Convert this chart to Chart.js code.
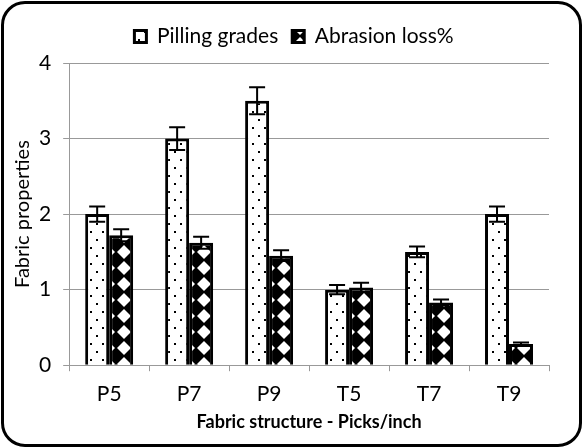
<!DOCTYPE html>
<html>
<head>
<meta charset="utf-8">
<script src="https://cdn.jsdelivr.net/npm/chart.js@4"></script>
<style>
  html, body { margin: 0; padding: 0; background: #fff; }
  #frame {
    position: absolute; left: 1px; top: 1px;
    width: 575px; height: 440px;
    border: 3px solid #000; border-radius: 24px;
    background: #fff; overflow: hidden;
  }
  #wrap { position: absolute; left: 0; top: 0; width: 575px; height: 440px; }
</style>
</head>
<body>
<div id="frame"><div id="wrap"><canvas id="fabricChart"></canvas></div></div>
<script>
const categories = ['P5', 'P7', 'P9', 'T5', 'T7', 'T9'];
const pillingGrades = [2.0, 3.0, 3.5, 1.0, 1.5, 2.0];
const pillingErr = [0.1, 0.15, 0.18, 0.06, 0.07, 0.1];
const abrasionLoss = [1.72, 1.62, 1.45, 1.03, 0.83, 0.28];
const abrasionErr = [0.08, 0.08, 0.07, 0.06, 0.04, 0.02];
const yTicks = [0, 1, 2, 3, 4];

function dotPattern() {
    const c = document.createElement('canvas');
    c.width = 12; c.height = 16;
    const g = c.getContext('2d');
    g.fillStyle = '#fff'; g.fillRect(0, 0, 12, 16);
    g.fillStyle = '#000';
    g.fillRect(2, 3, 2, 2);
    g.fillRect(8, 11, 2, 2);
    return document.createElement('canvas').getContext('2d').createPattern(c, 'repeat');
}

function diamondPattern() {
    const c = document.createElement('canvas');
    c.width = 16; c.height = 16;
    const g = c.getContext('2d');
    g.fillStyle = '#000'; g.fillRect(0, 0, 16, 16);
    g.fillStyle = '#fff';
    g.beginPath();
    g.moveTo(8, 1); g.lineTo(15, 8); g.lineTo(8, 15); g.lineTo(1, 8);
    g.closePath(); g.fill();
    return document.createElement('canvas').getContext('2d').createPattern(c, 'repeat');
}

const errorBars = {
    id: 'errorBars',
    afterDatasetsDraw(chart) {
        const ctx = chart.ctx;
        const y = chart.scales.y;
        chart.data.datasets.forEach((ds, i) => {
            const meta = chart.getDatasetMeta(i);
            meta.data.forEach((bar, j) => {
                const v = ds.data[j], e = ds.errors[j];
                const top = y.getPixelForValue(v + e);
                const bot = y.getPixelForValue(v - e);
                ctx.save();
                ctx.strokeStyle = '#000';
                ctx.lineWidth = 2;
                ctx.beginPath();
                ctx.moveTo(bar.x, top); ctx.lineTo(bar.x, bot);
                ctx.moveTo(bar.x - 8, top); ctx.lineTo(bar.x + 8, top);
                ctx.moveTo(bar.x - 8, bot); ctx.lineTo(bar.x + 8, bot);
                ctx.stroke();
                ctx.restore();
            });
        });
    }
};

// a bit more room between the legend and the plot, and nudge it right
const legendGap = {
    id: 'legendGap',
    beforeInit(chart) {
        const fit = chart.legend.fit;
        chart.legend.fit = function () {
            fit.bind(chart.legend)();
            this.height += 6;
        };
    },
    afterLayout(chart) {
        chart.legend.left += 28;
    }
};

const font = "Lato, 'Open Sans', sans-serif";
Chart.defaults.font.family = font;
Chart.defaults.color = '#000';

const ctx = document.getElementById('fabricChart').getContext('2d');
new Chart(ctx, {
    type: 'bar',
    data: {
        labels: categories,
        datasets: [{
            label: 'Pilling grades',
            data: pillingGrades,
            errors: pillingErr,
            backgroundColor: dotPattern(),
            borderColor: '#000',
            borderWidth: 3
        }, {
            label: 'Abrasion loss%',
            data: abrasionLoss,
            errors: abrasionErr,
            backgroundColor: diamondPattern(),
            borderColor: '#000',
            borderWidth: 3
        }]
    },
    options: {
        responsive: true,
        maintainAspectRatio: false,
        animation: false,
        layout: { padding: { left: 7, right: 30, top: 8, bottom: 11 } },
        datasets: { bar: { categoryPercentage: 0.6, barPercentage: 1.0 } },
        scales: {
            y: {
                min: 0, max: 4,
                afterBuildTicks(axis) { axis.ticks = yTicks.map(v => ({ value: v })); },
                afterFit(axis) { axis.width -= 8; },
                ticks: { font: { size: 21 }, padding: 12 },
                grid: { color: '#999', lineWidth: 1, tickLength: 6 },
                border: { color: '#999' },
                title: { display: true, text: 'Fabric properties', font: { size: 20 }, padding: 0 }
            },
            x: {
                grid: { offset: true, drawOnChartArea: false, color: '#999', tickLength: 6 },
                border: { color: '#999' },
                ticks: { font: { size: 21 }, padding: 10 },
                title: { display: true, text: 'Fabric structure - Picks/inch', font: { size: 18, weight: 'bold' }, padding: { top: -5, bottom: 0 } }
            }
        },
        plugins: {
            legend: {
                display: true,
                position: 'top',
                labels: { font: { size: 21 }, boxWidth: 12, boxHeight: 12, padding: 14 }
            },
            tooltip: { enabled: false }
        }
    },
    plugins: [errorBars, legendGap]
});
</script>
</body>
</html>
